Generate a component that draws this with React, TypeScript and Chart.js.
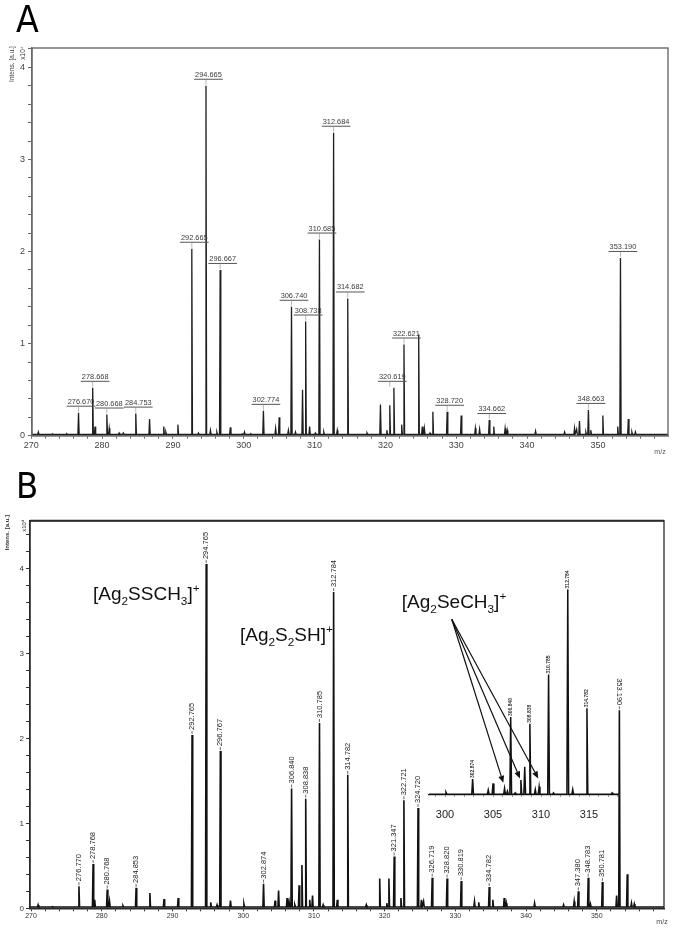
import React, { useEffect, useRef } from 'react';
import { Chart, registerables } from 'chart.js';

Chart.register(...registerables);
const FONT = "'Liberation Sans', Arial, sans-serif";
Chart.defaults.font.family = FONT;

// ---------------- Panel A data (m/z, intensity x10^4) ----------------
const mzA = [
  271.0, 273.0, 275.0, 276.670, 278.668, 279.0, 280.668, 281.0, 282.4, 283.0,
  284.753, 286.7, 288.7, 289.0, 290.7, 292.665, 293.6, 294.665, 295.3, 296.2,
  296.667, 298.1, 299.8, 300.1, 301.0, 302.774, 304.5, 305.0, 306.3, 306.740,
  307.3, 308.3, 308.738, 309.3, 310.1, 310.685, 311.3, 312.684, 313.2, 314.682,
  317.4, 319.3, 320.2, 320.619, 321.2, 322.3, 322.621, 324.7, 325.2, 325.5,
  326.3, 326.7, 328.720, 330.7, 332.7, 333.3, 334.662, 335.3, 336.9, 337.2,
  341.2, 345.3, 346.7, 347.0, 347.4, 348.3, 348.663, 349.0, 350.7, 352.8,
  353.190, 354.3, 354.8, 355.3,
];
const intA = [
  0.04, 0.02, 0.02, 0.25, 0.52, 0.10, 0.23, 0.08, 0.03, 0.03,
  0.24, 0.18, 0.10, 0.04, 0.12, 2.03, 0.03, 3.80, 0.06, 0.04,
  1.80, 0.09, 0.02, 0.04, 0.02, 0.27, 0.08, 0.20, 0.06, 1.40,
  0.04, 0.50, 1.24, 0.10, 0.03, 2.13, 0.04, 3.29, 0.06, 1.49,
  0.03, 0.34, 0.06, 0.33, 0.52, 0.12, 0.99, 1.10, 0.10, 0.08,
  0.03, 0.26, 0.26, 0.22, 0.08, 0.07, 0.17, 0.10, 0.08, 0.06,
  0.05, 0.04, 0.08, 0.07, 0.16, 0.04, 0.28, 0.06, 0.22, 0.10,
  1.93, 0.18, 0.04, 0.04,
];
const labelsA = [
  '276.670', '278.668', '280.668', '284.753', '292.665', '294.665', '296.667',
  '302.774', '306.740', '308.738', '310.685', '312.684', '314.682', '320.619',
  '322.621', '328.720', '334.662', '348.663', '353.190',
];

// ---------------- Panel B data ----------------
const mzB = [
  271.0, 273.0, 276.770, 278.768, 279.0, 280.768, 281.1, 283.0, 284.853, 286.8,
  288.8, 290.8, 292.765, 294.765, 295.4, 296.3, 296.767, 298.2, 300.1, 302.874,
  304.5, 305.0, 306.2, 306.5, 306.840, 307.3, 307.9, 308.3, 308.838, 309.4,
  309.8, 310.785, 311.3, 312.784, 313.3, 314.782, 317.4, 319.3, 320.3, 320.6,
  321.347, 322.3, 322.721, 324.720, 325.2, 325.5, 326.719, 328.820, 330.819, 332.7,
  333.3, 334.782, 335.3, 336.9, 337.2, 341.2, 345.3, 346.8, 347.380, 348.783,
  349.1, 350.781, 352.8, 353.190, 354.3, 354.9, 355.3,
];
const intB = [
  0.04, 0.02, 0.26, 0.52, 0.10, 0.22, 0.08, 0.03, 0.24, 0.18,
  0.11, 0.12, 2.04, 4.05, 0.07, 0.04, 1.85, 0.09, 0.05, 0.29,
  0.09, 0.21, 0.12, 0.07, 1.41, 0.04, 0.27, 0.51, 1.29, 0.10,
  0.15, 2.18, 0.04, 3.72, 0.10, 1.57, 0.04, 0.35, 0.06, 0.35,
  0.61, 0.12, 1.27, 1.18, 0.10, 0.08, 0.36, 0.35, 0.32, 0.08,
  0.07, 0.25, 0.10, 0.12, 0.06, 0.06, 0.04, 0.08, 0.20, 0.36,
  0.05, 0.31, 0.15, 2.33, 0.40, 0.06, 0.05,
];
const labelsB = [
  '276.770', '278.768', '280.768', '284.853', '292.765', '294.765', '296.767',
  '302.874', '306.840', '308.838', '310.785', '312.784', '314.782', '321.347',
  '322.721', '324.720', '326.719', '328.820', '330.819', '334.782', '347.380',
  '348.783', '350.781', '353.190',
];
const flippedLabelsB = ['353.190'];

const xMajorTicks = [270, 280, 290, 300, 310, 320, 330, 340, 350];
const yMajorTicks = [0, 1, 2, 3, 4];

// Inset (zoom of panel B, 298–318)
const insetMajorTicks = [300, 305, 310, 315];
const insetLabels = ['302.874', '306.840', '308.838', '310.785', '312.784', '314.782'];

const annotationsB = [
  { text: '[Ag_2SSCH_3]^+', mz: 278.76, y: 3.63 },
  { text: '[Ag_2S_2SH]^+', mz: 299.54, y: 3.14 },
];
const insetAnnotation = { text: '[Ag_2SeCH_3]^+', mz: 295.5, y: 3.38 };
const arrowFromMz = 300.7;
const arrowFromY = 3.18;
const arrowToMz = [306.07, 307.81, 309.71];
const arrowToY = [0.22, 0.3, 0.3];

// ---------------- helpers ----------------
function buildTrace(mz: number[], inten: number[], xmin: number, xmax: number) {
  const BASE = 0.015;
  const HW = 0.09;
  const order = mz
    .map((_, i) => i)
    .filter((i) => mz[i] > xmin && mz[i] < xmax)
    .sort((a, b) => mz[a] - mz[b]);
  const pts: { x: number; y: number }[] = [{ x: xmin, y: BASE }];
  order.forEach((i) => {
    pts.push({ x: mz[i] - HW, y: BASE }, { x: mz[i], y: inten[i] }, { x: mz[i] + HW, y: BASE });
  });
  pts.push({ x: xmax, y: BASE });
  return pts;
}

function stepTicks(from: number, to: number, step: number) {
  const t: { value: number }[] = [];
  for (let k = 0; from + k * step <= to + 1e-9; k++) {
    t.push({ value: Math.round((from + k * step) * 1000) / 1000 });
  }
  return t;
}

function isMajor(v: number, list: number[]) {
  return list.some((m) => Math.abs(m - v) < 1e-6);
}

function drawRich(ctx: CanvasRenderingContext2D, text: string, x: number, y: number, size: number, color: string) {
  let cx = x;
  let i = 0;
  ctx.fillStyle = color;
  ctx.textAlign = 'left';
  ctx.textBaseline = 'alphabetic';
  while (i < text.length) {
    let ch = text[i];
    let mode = 0;
    if (ch === '_' || ch === '^') {
      mode = ch === '_' ? 1 : 2;
      i++;
      ch = text[i];
    }
    const s = mode ? size * 0.62 : size;
    ctx.font = `${s}px ${FONT}`;
    const dy = mode === 1 ? size * 0.26 : mode === 2 ? -size * 0.42 : 0;
    ctx.fillText(ch, cx, y + dy);
    cx += ctx.measureText(ch).width;
    i++;
  }
}

function vText(ctx: CanvasRenderingContext2D, text: string, x: number, y: number, font: string, color: string, angle = -Math.PI / 2) {
  ctx.save();
  ctx.translate(x, y);
  ctx.rotate(angle);
  ctx.font = font;
  ctx.fillStyle = color;
  ctx.textAlign = 'center';
  ctx.textBaseline = 'middle';
  ctx.fillText(text, 0, 0);
  ctx.restore();
}

function line(ctx: CanvasRenderingContext2D, x1: number, y1: number, x2: number, y2: number) {
  ctx.beginPath();
  ctx.moveTo(x1, y1);
  ctx.lineTo(x2, y2);
  ctx.stroke();
}

function peakOf(mz: number[], inten: number[], m: number) {
  let best = 0;
  let d = Infinity;
  mz.forEach((v, i) => {
    if (Math.abs(v - m) < d) {
      d = Math.abs(v - m);
      best = inten[i];
    }
  });
  return best;
}

// ---------------- plugins ----------------
const panelAPlugin = {
  id: 'panelA',
  afterDraw(chart: any) {
    const { ctx, chartArea: ca, scales } = chart;
    const x = scales.x;
    const y = scales.y;
    ctx.save();
    ctx.strokeStyle = '#6a6a6a';
    ctx.lineWidth = 1.4;
    ctx.strokeRect(ca.left, ca.top, ca.right - ca.left, ca.bottom - ca.top);

    ctx.textAlign = 'center';
    ctx.textBaseline = 'alphabetic';
    labelsA.forEach((lab) => {
      const m = parseFloat(lab);
      let h = 0;
      mzA.forEach((v, i) => {
        if (v >= m - 0.5 && v <= m + 0.7) h = Math.max(h, intA[i]);
      });
      const px = x.getPixelForValue(m);
      const py = y.getPixelForValue(h);
      const cx = px + 2.5;
      const by = py - 9;
      ctx.font = `7.4px ${FONT}`;
      const w = ctx.measureText(lab).width;
      ctx.strokeStyle = '#b8b8b8';
      ctx.lineWidth = 1;
      line(ctx, px, by + 3, px, py - 1);
      ctx.fillStyle = '#3a3a3a';
      ctx.fillText(lab, cx, by);
      ctx.strokeStyle = '#555';
      line(ctx, cx - w / 2 - 1, by + 2.5, cx + w / 2 + 1, by + 2.5);
    });

    ctx.fillStyle = '#000';
    ctx.font = `37px 'Liberation Sans Narrow', 'DejaVu Sans Condensed', ${FONT}`;
    ctx.textAlign = 'left';
    ctx.textBaseline = 'alphabetic';
    ctx.fillText('A', 16, 32);

    vText(ctx, 'Intens. [a.u.]', 12, ca.top + 16, `6.5px ${FONT}`, '#444');
    vText(ctx, 'x10\u2074', 23, ca.top + 5, `6.5px ${FONT}`, '#444');
    ctx.font = `7px ${FONT}`;
    ctx.fillStyle = '#555';
    ctx.textAlign = 'center';
    ctx.fillText('m/z', 660, ca.bottom + 18);
    ctx.restore();
  },
};

const panelBPlugin = {
  id: 'panelB',
  afterDraw(chart: any) {
    const { ctx, chartArea: ca, scales } = chart;
    const x = scales.x;
    const y = scales.y;
    ctx.save();
    ctx.strokeStyle = '#2a2a2a';
    ctx.lineWidth = 1.3;
    ctx.strokeRect(ca.left, ca.top, ca.right - ca.left, ca.bottom - ca.top);
    ctx.lineWidth = 2;
    line(ctx, ca.left, ca.top, ca.right, ca.top);

    labelsB.forEach((lab) => {
      const m = parseFloat(lab);
      const h = peakOf(mzB, intB, m);
      const px = x.getPixelForValue(m);
      const py = y.getPixelForValue(h);
      ctx.font = `7.5px ${FONT}`;
      const w = ctx.measureText(lab).width;
      ctx.strokeStyle = '#444';
      ctx.lineWidth = 0.8;
      line(ctx, px, py - 1, px, py - 4);
      ctx.save();
      ctx.fillStyle = '#222';
      ctx.textBaseline = 'middle';
      ctx.textAlign = 'left';
      if (flippedLabelsB.includes(lab)) {
        ctx.translate(px, py - 5 - w);
        ctx.rotate(Math.PI / 2);
      } else {
        ctx.translate(px, py - 5);
        ctx.rotate(-Math.PI / 2);
      }
      ctx.fillText(lab, 0, 0);
      ctx.restore();
    });

    annotationsB.forEach((a) => {
      drawRich(ctx, a.text, x.getPixelForValue(a.mz), y.getPixelForValue(a.y), 19, '#111');
    });

    ctx.fillStyle = '#000';
    ctx.font = `36px 'Liberation Sans Narrow', 'DejaVu Sans Condensed', ${FONT}`;
    ctx.textAlign = 'left';
    ctx.textBaseline = 'alphabetic';
    ctx.fillText('B', 16, 38);

    vText(ctx, 'Intens. [a.u.]', 7, ca.top + 12, `bold 6px ${FONT}`, '#333');
    vText(ctx, 'x10\u2074', 24, ca.top + 5, `6px ${FONT}`, '#333');
    ctx.font = `7px ${FONT}`;
    ctx.fillStyle = '#444';
    ctx.textAlign = 'center';
    ctx.fillText('m/z', 662, ca.bottom + 16);
    ctx.restore();
  },
};

const insetPlugin = {
  id: 'inset',
  afterDraw(chart: any) {
    const { ctx, scales } = chart;
    const x = scales.x;
    const y = scales.y;
    ctx.save();
    insetLabels.forEach((lab) => {
      const m = parseFloat(lab);
      const h = peakOf(mzB, intB, m);
      const px = x.getPixelForValue(m);
      const py = y.getPixelForValue(h);
      ctx.save();
      ctx.translate(px, py - 1);
      ctx.rotate(-Math.PI / 2);
      ctx.font = `bold 5px ${FONT}`;
      ctx.fillStyle = '#333';
      ctx.textAlign = 'left';
      ctx.textBaseline = 'middle';
      ctx.fillText(lab, 0, 0);
      ctx.restore();
    });

    drawRich(ctx, insetAnnotation.text, x.getPixelForValue(insetAnnotation.mz), y.getPixelForValue(insetAnnotation.y), 19, '#111');

    const sx = x.getPixelForValue(arrowFromMz);
    const sy = y.getPixelForValue(arrowFromY);
    ctx.strokeStyle = '#111';
    ctx.fillStyle = '#111';
    ctx.lineWidth = 1.2;
    arrowToMz.forEach((m, i) => {
      const tx = x.getPixelForValue(m);
      const ty = y.getPixelForValue(arrowToY[i]);
      const ang = Math.atan2(ty - sy, tx - sx);
      const L = 7;
      const bx = tx - L * Math.cos(ang);
      const byy = ty - L * Math.sin(ang);
      line(ctx, sx, sy, bx, byy);
      ctx.beginPath();
      ctx.moveTo(tx, ty);
      ctx.lineTo(bx - 3 * Math.sin(ang), byy + 3 * Math.cos(ang));
      ctx.lineTo(bx + 3 * Math.sin(ang), byy - 3 * Math.cos(ang));
      ctx.closePath();
      ctx.fill();
    });
    ctx.restore();
  },
};

// ---------------- chart builders ----------------
function makeA(canvas: HTMLCanvasElement) {
  const xmin = 270.1;
  const xmax = 359.9;
  return new Chart(canvas, {
    type: 'line',
    data: {
      datasets: [
        {
          data: buildTrace(mzA, intA, xmin, xmax),
          borderColor: '#1e1e1e',
          borderWidth: 1.3,
          pointRadius: 0,
          tension: 0,
          fill: false,
        },
      ],
    },
    options: {
      animation: false,
      responsive: false,
      events: [],
      layout: { padding: { top: 48, right: 6, left: 0, bottom: 0 } },
      plugins: { legend: { display: false }, tooltip: { enabled: false } },
      scales: {
        x: {
          type: 'linear',
          min: xmin,
          max: xmax,
          afterFit: (s: any) => {
            s.height = 24.3;
          },
          afterBuildTicks: (s: any) => {
            s.ticks = stepTicks(270, 358, 2);
          },
          ticks: {
            autoSkip: false,
            maxRotation: 0,
            padding: 1,
            color: '#444',
            font: { size: 9 },
            callback: (v: any) => (isMajor(Number(v), xMajorTicks) ? String(v) : ''),
          },
          grid: { drawOnChartArea: false, drawTicks: true, tickLength: 3, color: '#666' },
          border: { color: '#6a6a6a', width: 1.4 },
        },
        y: {
          min: 0,
          max: 4.21,
          afterFit: (s: any) => {
            s.width = 32;
          },
          afterBuildTicks: (s: any) => {
            s.ticks = stepTicks(0, 4.2, 0.2);
          },
          ticks: {
            autoSkip: false,
            padding: 3,
            color: '#444',
            font: { size: 9 },
            callback: (v: any) => (isMajor(Number(v), yMajorTicks) ? String(v) : ''),
          },
          grid: { drawOnChartArea: false, drawTicks: true, tickLength: 4, color: '#666' },
          border: { color: '#6a6a6a', width: 1.4 },
        },
      },
    },
    plugins: [panelAPlugin],
  } as any);
}

function makeB(canvas: HTMLCanvasElement) {
  const xmin = 269.85;
  const xmax = 359.5;
  return new Chart(canvas, {
    type: 'line',
    data: {
      datasets: [
        {
          data: buildTrace(mzB, intB, xmin, xmax),
          borderColor: '#111',
          borderWidth: 1.6,
          pointRadius: 0,
          tension: 0,
          fill: false,
        },
      ],
    },
    options: {
      animation: false,
      responsive: false,
      events: [],
      layout: { padding: { top: 60.7, right: 10, left: 0, bottom: 0 } },
      plugins: { legend: { display: false }, tooltip: { enabled: false } },
      scales: {
        x: {
          type: 'linear',
          min: xmin,
          max: xmax,
          afterFit: (s: any) => {
            s.height = 20.7;
          },
          afterBuildTicks: (s: any) => {
            s.ticks = stepTicks(270, 358, 2);
          },
          ticks: {
            autoSkip: false,
            maxRotation: 0,
            padding: 1,
            color: '#333',
            font: { size: 7 },
            callback: (v: any) => (isMajor(Number(v), xMajorTicks) ? String(v) : ''),
          },
          grid: { drawOnChartArea: false, drawTicks: true, tickLength: 3, color: '#333' },
          border: { color: '#2a2a2a', width: 1.4 },
        },
        y: {
          min: 0,
          max: 4.56,
          afterFit: (s: any) => {
            s.width = 30;
          },
          afterBuildTicks: (s: any) => {
            s.ticks = stepTicks(0, 4.4, 0.2);
          },
          ticks: {
            autoSkip: false,
            padding: 2,
            color: '#333',
            font: { size: 8 },
            callback: (v: any) => (isMajor(Number(v), yMajorTicks) ? String(v) : ''),
          },
          grid: { drawOnChartArea: false, drawTicks: true, tickLength: 4, color: '#333' },
          border: { color: '#2a2a2a', width: 1.4 },
        },
      },
    },
    plugins: [panelBPlugin],
  } as any);
}

function makeInset(canvas: HTMLCanvasElement) {
  const xmin = 298.33;
  const xmax = 318.12;
  return new Chart(canvas, {
    type: 'line',
    data: {
      datasets: [
        {
          data: buildTrace(mzB, intB, xmin, xmax),
          borderColor: '#111',
          borderWidth: 1.5,
          pointRadius: 0,
          tension: 0,
          fill: false,
        },
      ],
    },
    options: {
      animation: false,
      responsive: false,
      events: [],
      layout: { padding: { top: 125, right: 55, left: 429, bottom: 0 } },
      plugins: { legend: { display: false }, tooltip: { enabled: false } },
      scales: {
        x: {
          type: 'linear',
          min: xmin,
          max: xmax,
          afterFit: (s: any) => {
            s.height = 134;
          },
          afterBuildTicks: (s: any) => {
            s.ticks = stepTicks(299, 318, 1);
          },
          ticks: {
            autoSkip: false,
            maxRotation: 0,
            padding: 11,
            color: '#222',
            font: { size: 11 },
            callback: (v: any) => (isMajor(Number(v), insetMajorTicks) ? String(v) : ''),
          },
          grid: { drawOnChartArea: false, drawTicks: true, tickLength: 2, color: '#999' },
          border: { color: '#222', width: 1.3 },
        },
        y: {
          display: false,
          min: 0,
          max: 3.8,
        },
      },
    },
    plugins: [insetPlugin],
  } as any);
}

export default function App() {
  const refA = useRef<HTMLCanvasElement>(null);
  const refB = useRef<HTMLCanvasElement>(null);
  const refI = useRef<HTMLCanvasElement>(null);

  useEffect(() => {
    const charts: Chart[] = [];
    if (refA.current) charts.push(makeA(refA.current));
    if (refB.current) charts.push(makeB(refB.current));
    if (refI.current) charts.push(makeInset(refI.current));
    return () => charts.forEach((c) => c.destroy());
  }, []);

  const cStyle = (top: number, h: number): React.CSSProperties => ({
    position: 'absolute',
    left: 0,
    top,
    width: 674,
    height: h,
  });

  return (
    <div style={{ position: 'fixed', left: 0, top: 0, width: 674, height: 929, background: '#fff' }}>
      <canvas ref={refA} width={674} height={460} style={cStyle(0, 460)} />
      <canvas ref={refB} width={674} height={469} style={cStyle(460, 469)} />
      <canvas ref={refI} width={674} height={469} style={cStyle(460, 469)} />
    </div>
  );
}
